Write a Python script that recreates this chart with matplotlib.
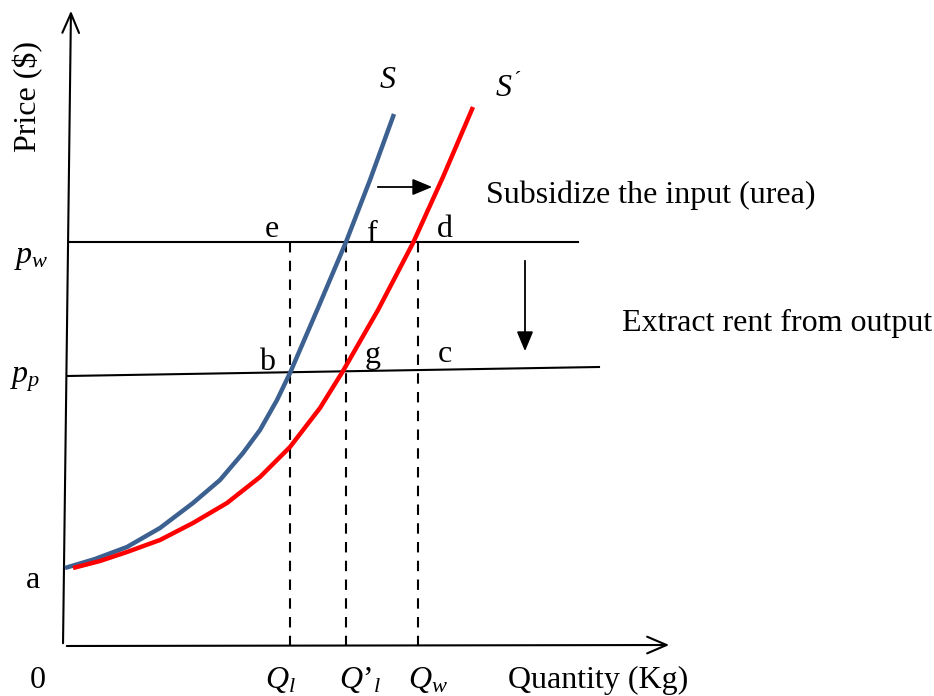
import matplotlib.pyplot as plt
from matplotlib.patches import FancyArrowPatch

plt.rcParams['font.family'] = 'Liberation Serif'
plt.rcParams['mathtext.fontset'] = 'custom'
plt.rcParams['mathtext.rm'] = 'Liberation Serif'
plt.rcParams['mathtext.it'] = 'Liberation Serif:italic'

# curves (pixel space, y grows downward)
s_x = [65, 95, 127, 160, 193, 220, 243, 260, 277, 290, 318, 346, 370, 394]
s_y = [568, 559, 547, 528, 503, 480, 453, 430, 400, 373, 308, 242, 180, 114]
s2_x = [73, 100, 127, 160, 193, 227, 260, 290, 320, 343, 378, 413, 443, 473]
s2_y = [568, 561, 552, 540, 523, 503, 477, 447, 408, 371, 310, 243, 177, 107]

pw_y = 242
pp_y = [376, 367]          # pp line slightly tilted (left, right)
q_x = [290, 346, 418]      # Ql, Q'l, Qw
q_labels = [r'$Q_l$', r"$Q$’${}_l$", r'$Q_w$']

fs = 23
fig = plt.figure(figsize=(9.34, 6.96), dpi=100)
ax = fig.add_axes([0, 0, 1, 1])
ax.set_xlim(0, 934)
ax.set_ylim(696, 0)
ax.axis('off')

# axes with open arrow heads
ax.add_patch(FancyArrowPatch((63, 646), (71, 8), arrowstyle='->,head_length=14,head_width=6',
                             mutation_scale=1, lw=1.5, color='black'))
ax.add_patch(FancyArrowPatch((64, 646), (672, 645), arrowstyle='->,head_length=14,head_width=6',
                             mutation_scale=1, lw=1.5, color='black'))

# price lines
ax.plot([69, 578], [pw_y, pw_y], color='black', lw=1.5)
ax.plot([67, 599], pp_y, color='black', lw=1.5)

# dashed quantity lines
for x in q_x:
    ax.plot([x, x], [pw_y, 645], color='black', lw=1.5, ls=(0, (5, 4)))

# supply curves
ax.plot(s_x, s_y, color='#3c6191', lw=3.2, solid_capstyle='butt', solid_joinstyle='round')
ax.plot(s2_x, s2_y, color='#ff0000', lw=3.2, solid_capstyle='butt', solid_joinstyle='round')

# shift arrows
ax.annotate('', xy=(435, 187), xytext=(375, 187),
            arrowprops=dict(arrowstyle='-|>,head_length=1.2,head_width=0.5', color='black', lw=1.3))
ax.annotate('', xy=(525, 354), xytext=(525, 258),
            arrowprops=dict(arrowstyle='-|>,head_length=1.2,head_width=0.5', color='black', lw=1.3))

# texts
ax.text(486, 203, 'Subsidize the input (urea)', fontsize=fs, va='baseline')
ax.text(622, 331, 'Extract rent from output', fontsize=fs, va='baseline')
ax.text(508, 688, 'Quantity (Kg)', fontsize=fs, va='baseline')
ax.text(28, 97, 'Price ($)', fontsize=fs, rotation=90, ha='center', va='center')
ax.text(38, 688, '0', fontsize=fs, va='baseline', ha='center')
ax.text(33, 588, 'a', fontsize=fs, va='baseline', ha='center')
ax.text(14, 263, r'$p_w$', fontsize=fs, va='baseline')
ax.text(10, 383, r'$p_p$', fontsize=fs, va='baseline')

for t, x, y in [('e', 272, 237), ('f', 372, 242), ('d', 445, 237),
                ('b', 267, 370), ('g', 373, 363), ('c', 445, 362)]:
    ax.text(x, y, t, fontsize=fs, va='baseline', ha='center')

ax.text(388, 88, r'$S$', fontsize=fs, va='baseline', ha='center')
ax.text(495, 97, r'$S^{´}$', fontsize=fs, va='baseline', ha='left')

for x, lab in zip([280, 360, 428], q_labels):
    ax.text(x, 688, lab, fontsize=fs, va='baseline', ha='center')

fig.savefig('out.png', dpi=100)
